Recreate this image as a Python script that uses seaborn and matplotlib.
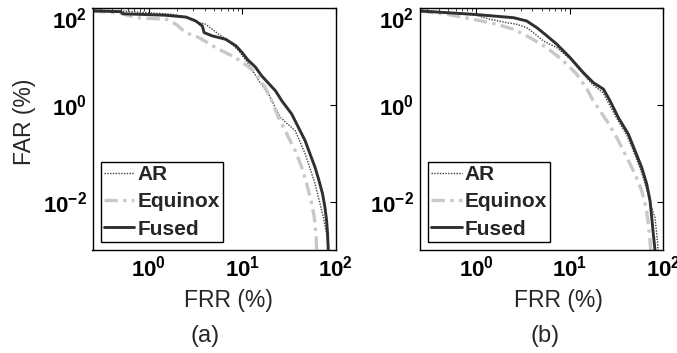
import numpy as np
import pandas as pd
import matplotlib
matplotlib.use("Agg")
import matplotlib.pyplot as plt
from matplotlib.ticker import FixedLocator, FuncFormatter, NullFormatter
import seaborn as sns

# ── DET curves: FRR (%) vs FAR (%) ──────────────────────────────────────────
# panel (a)
A_AR_FRR = [0.25, 0.525, 1.79, 2.71, 3.46, 4.08, 5.62, 7.22, 9.22, 11.8, 15.1,
            19.2, 23.6, 25.9, 37.0, 47.3, 60.4, 74.1, 80.2, 85.0]
A_AR_FAR = [91, 86.7, 74.1, 63, 49.8, 46.1, 28.7, 20.9, 13.0, 6.9, 3.12,
            1.66, 0.752, 0.54, 0.291, 0.0977, 0.0235, 0.00475, 0.0022, 0.001]
A_EQ_FRR = [0.25, 0.50, 0.73, 1.55, 1.96, 2.50, 3.46, 5.21, 8.5, 12.7, 17.7,
            20.7, 24.6, 30.1, 37.0, 43.5, 49.1, 54.7, 59.3, 61.8, 62.8]
A_EQ_FAR = [87, 78, 63, 58.5, 46, 31, 24.4, 15.2, 9.45, 5.45, 2.27,
            1.21, 0.547, 0.249, 0.113, 0.051, 0.0232, 0.0105, 0.00475, 0.00216, 0.001]
A_FU_FRR = [0.25, 0.50, 0.53, 1.5, 2.50, 3.19, 3.75, 3.92, 4.80, 6.66, 8.6, 10.0,
            11.5, 13.9, 16.2, 22.8, 26.6, 34.0, 40.1, 47.3, 53.4, 60.4, 66.6,
            72.7, 77.1, 80.2, 82.2, 83.6]
A_FU_FAR = [87, 84, 76, 71, 65, 54, 42.5, 31, 26.5, 22.6, 16.5, 12.0,
            8.5, 6.0, 3.96, 1.94, 1.21, 0.643, 0.34, 0.181, 0.0963, 0.0511, 0.0271,
            0.0144, 0.0076, 0.0041, 0.0022, 0.001]

# panel (b)
B_AR_FRR = [0.25, 1.01, 1.41, 2.12, 2.71, 3.47, 4.09, 5.23, 7.28, 10.1, 13.9,
            17.8, 22.8, 26.4, 32.2, 41.2, 49.0, 58.1, 67.4, 74.3, 82.1, 85.5, 88.9]
B_AR_FAR = [91, 70, 58.5, 49.8, 46.1, 39.3, 31, 20.9, 15.2, 8.88, 4.36,
            2.58, 1.77, 1.05, 0.515, 0.23, 0.102, 0.0436, 0.0169, 0.0083, 0.0047, 0.0022, 0.001]
B_EQ_FRR = [0.25, 0.483, 0.93, 1.66, 2.50, 3.77, 5.69, 8.57, 11.9, 15.0, 17.9,
            25.0, 31.9, 40.9, 50.1, 59.1, 65.8, 69.6, 72.6, 73.8]
B_EQ_FAR = [86.7, 74.1, 58.5, 46.1, 36.4, 24.4, 15.2, 8.08, 4.30, 2.27, 1.21,
            0.468, 0.212, 0.0819, 0.0373, 0.0169, 0.0076, 0.00347, 0.00157, 0.001]
B_FU_FRR = [0.25, 0.93, 2.50, 3.47, 4.45, 5.45, 7.28, 10.1, 14.0, 17.9, 23.0,
            27.1, 33.2, 42.5, 50.1, 59.1, 66.9, 72.6, 75.7, 78.7, 82.1]
B_FU_FAR = [86.7, 74.1, 63.1, 54, 39.3, 28.7, 17.9, 9.45, 4.63, 2.88, 2.11,
            1.21, 0.547, 0.249, 0.113, 0.051, 0.0232, 0.0105, 0.00475, 0.00216, 0.001]

METHODS = ["AR", "Equinox", "Fused"]
PANELS = ["(a)", "(b)"]

frames = []
for panel, curves in zip(PANELS, [
        [(A_AR_FRR, A_AR_FAR), (A_EQ_FRR, A_EQ_FAR), (A_FU_FRR, A_FU_FAR)],
        [(B_AR_FRR, B_AR_FAR), (B_EQ_FRR, B_EQ_FAR), (B_FU_FRR, B_FU_FAR)]]):
    for m, (frr, far) in zip(METHODS, curves):
        frames.append(pd.DataFrame({"FRR": frr, "FAR": far, "method": m, "panel": panel}))
df = pd.concat(frames, ignore_index=True)

STYLE = {
    "AR":      dict(color="#404040", lw=1.0, ls=(0, (1, 1))),
    "Equinox": dict(color="#c8c8c8", lw=2.4, ls=(0, (4, 1.6, 1, 1.6))),
    "Fused":   dict(color="#303030", lw=2.1, ls="-"),
}

sns.set_style("white")
plt.rcParams["font.family"] = ["Liberation Sans", "DejaVu Sans"]
plt.rcParams["mathtext.fontset"] = "custom"
plt.rcParams["mathtext.rm"] = "Liberation Sans"
plt.rcParams["mathtext.bf"] = "Liberation Sans:bold"
plt.rcParams["mathtext.it"] = "Liberation Sans:italic"

W, H = 677, 353
fig = plt.figure(figsize=(W / 100, H / 100), dpi=100)
fig.patch.set_facecolor("white")

ax_left = [92.5, 420]
label_x = [205, 545]
xlabel_x = [228, 558]


def pow_fmt(v, _):
    return r"$\mathbf{10^{%d}}$" % int(round(np.log10(v)))


for i, panel in enumerate(PANELS):
    ax = fig.add_axes([ax_left[i] / W, 1 - 250 / H, 243 / W, 242 / H])
    sub = df[df["panel"] == panel]
    for m in METHODS:
        st = STYLE[m]
        sns.lineplot(data=sub[sub["method"] == m], x="FRR", y="FAR", ax=ax,
                     sort=False, estimator=None, legend=False,
                     color=st["color"], linewidth=st["lw"], linestyle=st["ls"])
    ax.set_xscale("log")
    ax.set_yscale("log")
    ax.set_xlim(0.25, 100)
    ax.set_ylim(1e-3, 100)
    ax.set_xlabel("")
    ax.set_ylabel("")

    ax.xaxis.set_major_locator(FixedLocator([1, 10, 100]))
    ax.xaxis.set_minor_locator(FixedLocator([0.3, 0.4, 0.5, 0.6, 0.7, 0.8, 0.9,
                                             2, 3, 4, 5, 6, 7, 8, 9]))
    ax.xaxis.set_minor_formatter(NullFormatter())
    ax.yaxis.set_major_locator(FixedLocator([1e-2, 1, 1e2]))
    ax.yaxis.set_minor_locator(FixedLocator([]))
    ax.xaxis.set_major_formatter(FuncFormatter(pow_fmt))
    ax.yaxis.set_major_formatter(FuncFormatter(pow_fmt))
    ax.tick_params(which="major", direction="in", length=4, width=0.8,
                   top=True, right=True, labelsize=16, colors="black")
    ax.tick_params(which="minor", direction="in", length=2, width=0.6,
                   top=True, right=False, left=False)
    ax.tick_params(axis="x", pad=4)
    ax.tick_params(axis="y", pad=4)
    for s in ax.spines.values():
        s.set_color("black")
        s.set_linewidth(1.0)
    for t in ax.get_yticklabels():
        if t.get_text().find("{2}") >= 0:
            t.set_va("top")

    leg = ax.legend(handles=ax.get_lines()[:3], labels=METHODS, loc="lower left",
                    prop={"weight": "bold", "size": 15}, frameon=True,
                    fancybox=False, framealpha=1, edgecolor="black",
                    handlelength=1.45, handletextpad=0.15, borderpad=0.15,
                    labelspacing=0.4, borderaxespad=0.4)
    leg.get_frame().set_linewidth(1.0)

    fig.text(xlabel_x[i] / W, 1 - 301 / H, "FRR (%)", ha="center", va="center",
             fontsize=16.5)
    fig.text(label_x[i] / W, 1 - 336 / H, panel, ha="center", va="center",
             fontsize=17)

fig.text(25 / W, 1 - 122 / H, "FAR (%)", rotation=90, ha="center", va="center",
         fontsize=16.5)

fig.savefig("out.png", dpi=100)
plt.close(fig)
